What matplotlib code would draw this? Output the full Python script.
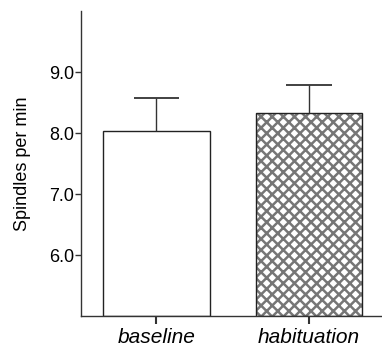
import numpy as np
import matplotlib
matplotlib.use('Agg')
import matplotlib.pyplot as plt

conditions = ['baseline', 'habituation']
means = [8.04, 8.33]
sem = [0.54, 0.46]
hatches = ['', 'xxx']

plt.rcParams['font.family'] = ['Liberation Sans', 'DejaVu Sans']
plt.rcParams['hatch.linewidth'] = 1.8

fig = plt.figure(figsize=(3.82, 3.48), dpi=100)
ax = fig.add_axes([0.212, 0.092, 0.785, 0.876])

x = np.arange(len(conditions))
for i in range(len(conditions)):
    # fill with hatch (hatch takes the edge colour), then a plain outline on top
    ax.bar(x[i], means[i] - 5.0, bottom=5.0, width=0.70, color='white',
           edgecolor='#767676', linewidth=0, hatch=hatches[i], zorder=2)
    ax.bar(x[i], means[i] - 5.0, bottom=5.0, width=0.70, fill=False,
           edgecolor='#222222', linewidth=1.0, zorder=2.5)
    # upper error bar only
    ax.vlines(x[i], means[i], means[i] + sem[i], color='#333333', lw=1.0, zorder=3)
    ax.hlines(means[i] + sem[i], x[i] - 0.15, x[i] + 0.15, color='#333333', lw=1.3, zorder=3)

ax.set_xlim(-0.495, 1.472)
ax.set_ylim(5.0, 10.0)
ax.set_yticks([6.0, 7.0, 8.0, 9.0])
ax.set_yticklabels(['6.0', '7.0', '8.0', '9.0'], fontsize=13)
ax.set_xticks(x)
ax.set_xticklabels(conditions, fontsize=15, style='italic')
ax.set_ylabel('Spindles per min', fontsize=13, labelpad=13)

for s in ['top', 'right']:
    ax.spines[s].set_visible(False)
for s in ['left', 'bottom']:
    ax.spines[s].set_color('#333333')
    ax.spines[s].set_linewidth(1.0)
ax.tick_params(axis='y', length=4, width=1, color='#333333', pad=1)
ax.tick_params(axis='x', length=6, width=1.5, color='#333333', pad=3)

plt.savefig('out.png', dpi=100)
